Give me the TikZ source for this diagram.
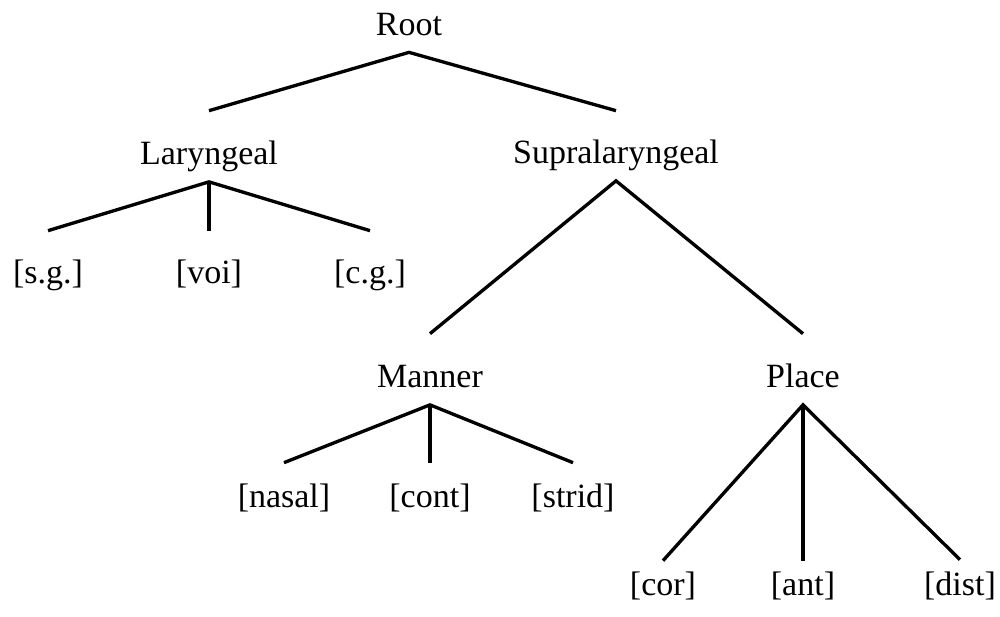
\documentclass[tikz,border=0pt]{standalone}
\usepackage{fontspec}
\setmainfont{Liberation Serif}
\tikzset{>=latex}
\tikzset{feat/.style = {inner sep=0pt, anchor=base,
        font=\fontsize{19.35}{23}\selectfont},
    mother/.style = {feat, text height=1.06cm, text depth=0.35cm},
    branch/.style = {line width=1.9pt}}

\begin{document}
\begin{tikzpicture}[x=0.02cm,y=-0.02cm]
    \useasboundingbox (0,0) rectangle (1000,616);
    % nodes
    \node[feat,text depth=0.34cm] (root) at (409,35) {Root};
    \node[mother] (lar) at (209,164) {Laryngeal};
    \node[mother,text height=1.04cm] (supra) at (616,163) {Supralaryngeal};
    \node[mother] (manner) at (430,387) {Manner};
    \node[mother] (place) at (803,387) {Place};
    \node[feat,text height=1.04cm] (sg) at (48,283) {[s.g.]};
    \node[feat,text height=1.04cm] (voi) at (209,283) {[voi]};
    \node[feat,text height=1.04cm] (cg) at (370,283) {[c.g.]};
    \node[feat,text height=0.88cm] (nasal) at (284,507) {[nasal]};
    \node[feat,text height=0.88cm] (cont) at (430,507) {[cont]};
    \node[feat,text height=0.88cm] (strid) at (573,507) {[strid]};
    \node[feat,text height=0.68cm] (cor) at (663,595) {[cor]};
    \node[feat,text height=0.68cm] (ant) at (803,595) {[ant]};
    \node[feat,text height=0.70cm] (dist) at (960,595) {[dist]};
    % branches
    \draw[branch] (lar.north) -- (root.south) -- (supra.north);
    \draw[branch] (sg.north) -- (lar.south) -- (cg.north);
    \draw[branch] (lar.south) -- (voi.north);
    \draw[branch] (manner.north) -- (supra.south) -- (place.north);
    \draw[branch] (nasal.north) -- (manner.south) -- (strid.north);
    \draw[branch] (manner.south) -- (cont.north);
    \draw[branch] (cor.north) -- (place.south) -- (dist.north);
    \draw[branch] (place.south) -- (ant.north);
\end{tikzpicture}
\end{document}
